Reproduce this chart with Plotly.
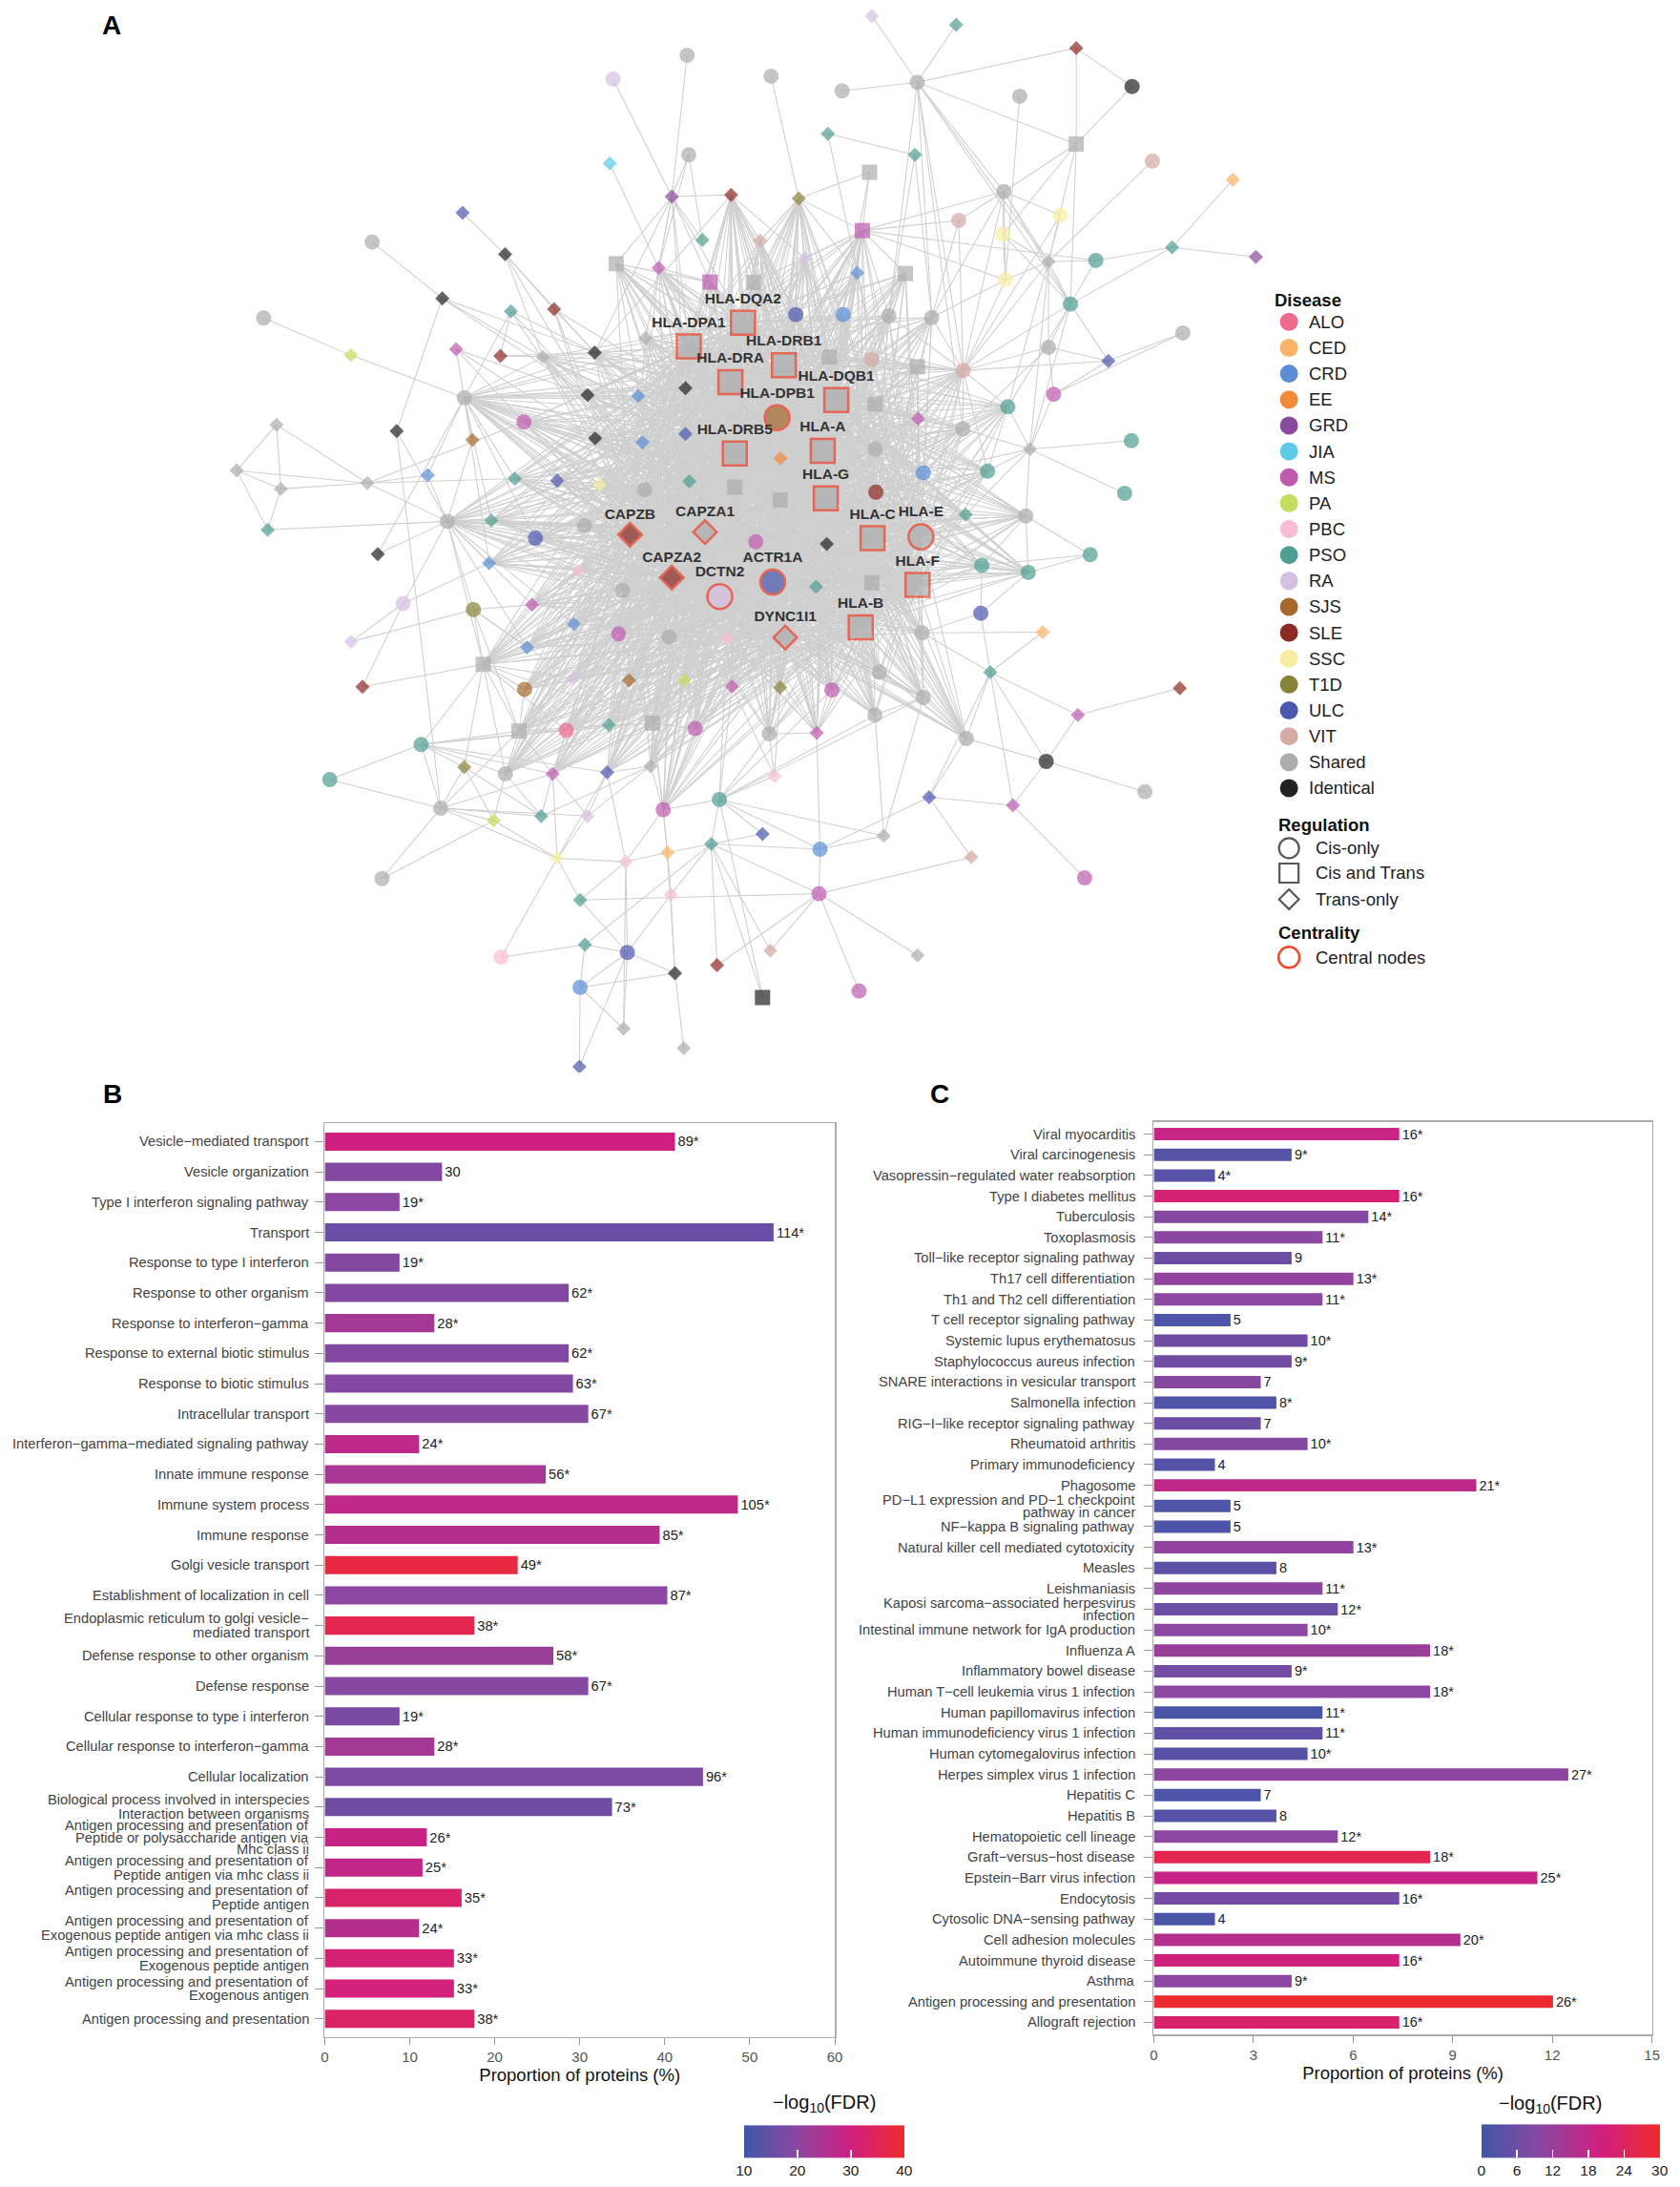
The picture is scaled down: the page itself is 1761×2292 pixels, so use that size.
import plotly.graph_objects as go

W, H = 1761, 2292
SANS = "Liberation Sans, Arial, Helvetica, sans-serif"

# ---------------- Panel A: network (coordinates in picture units, 1210 wide) ----------------
node_id = list(range(1, 204)) + [205, 206, 207, 208, 209, 211, 212, 213, 214, 215, 217, 218, 219]
node_x = [
    495.5, 441.8, 496.7, 439.4, 484.4, 506.6, 332.7, 267.1, 363.5, 318.0,
    188.4, 367.7, 399.0, 444.1, 474.9, 512.1, 251.8, 328.0, 360.1, 390.9,
    428.5, 465.4, 496.7, 494.3, 333.9, 423.3, 460.0, 377.2, 284.9, 339.8,
    428.8, 463.1, 494.3, 197.8, 168.9, 200.9, 263.6, 307.4, 370.6, 401.3,
    432.3, 464.7, 497.1, 191.4, 321.6, 353.5, 421.0, 385.5, 454.1, 508.5,
    271.2, 351.9, 416.9, 484.4, 448.7, 519.2, 289.6, 340.5, 383.1, 413.4,
    445.8, 482.5, 251.8, 379.5, 347.6, 260.1, 412.7, 377.7, 453.4, 493.6,
    373.6, 407.9, 438.7, 470.2, 501.4, 302.6, 236.4, 333.9, 363.7, 398.0,
    437.5, 469.0, 518.9, 316.8, 355.2, 389.7, 423.3, 478.2, 513.0, 401.3,
    451.0, 481.3, 274.3, 417.9, 483.7, 360.6, 421.4, 452.2, 517.2, 486.7,
    417.9, 449.4, 493.1, 417.4, 629.5, 690.6, 777.7, 818.2, 556.4, 607.9,
    662.4, 736.7, 777.7, 597.6, 660.7, 832.9, 891.3, 527.4, 576.5, 627.8,
    622.6, 548.5, 580.9, 618.9, 653.8, 543.6, 725.2, 692.5, 724.5, 766.2,
    726.4, 757.6, 791.9, 847.2, 908.0, 773.5, 855.0, 801.0, 761.3, 757.6,
    695.7, 662.6, 672.9, 641.8, 608.6, 574.3, 536.0, 565.7, 598.8, 629.5,
    526.9, 603.7, 560.8, 631.9, 663.1, 530.1, 593.9, 563.2, 631.9, 695.5,
    728.1, 744.1, 817.7, 812.8, 713.4, 666.8, 632.4, 530.1, 563.0, 596.1,
    697.5, 741.1, 630.0, 665.1, 545.3, 596.8, 787.8, 709.2, 742.9, 557.6,
    589.0, 629.5, 662.6, 708.5, 621.4, 566.7, 524.5, 666.0, 753.4, 715.4,
    528.1, 563.0, 600.5, 634.9, 666.8, 631.7, 852.8, 778.9, 555.1, 589.5,
    698.0, 755.9, 558.8,
    827.5, 671.0, 731.8, 550.2, 638.1,
    591.9, 701.6, 783.8, 591.2, 555.9,
    662.6, 550.2, 620.2,
]
node_y = [
    40.0, 57.2, 112.1, 118.3, 142.3, 173.7, 154.1, 175.2, 184.0, 216.0,
    230.2, 225.3, 223.8, 190.9, 193.9, 204.2, 257.2, 252.8, 257.7, 258.4,
    255.2, 244.7, 250.8, 281.0, 287.9, 285.9, 286.6, 305.5, 312.1, 318.5,
    317.3, 320.2, 314.1, 307.5, 340.6, 353.9, 349.7, 344.0, 346.5, 348.0,
    350.9, 354.6, 348.5, 383.5, 377.4, 376.7, 380.4, 389.6, 387.0, 385.2,
    401.2, 407.7, 412.9, 418.1, 427.4, 431.8, 436.9, 441.3, 437.7, 451.7,
    458.9, 461.0, 464.6, 468.7, 480.9, 497.2, 491.2, 499.0, 492.5, 492.5,
    529.2, 528.7, 524.8, 523.5, 527.4, 539.0, 564.4, 555.3, 560.2, 560.2,
    559.2, 554.6, 578.8, 585.1, 593.9, 590.7, 590.7, 586.1, 610.9, 621.3,
    623.8, 617.1, 636.0, 651.5, 647.6, 692.9, 683.8, 689.5, 698.7, 704.5,
    714.8, 744.6, 758.8, 772.2, 11.5, 17.9, 34.8, 62.6, 55.2, 65.8,
    59.6, 69.7, 104.3, 96.9, 112.1, 116.6, 130.1, 141.1, 143.6, 124.7,
    166.9, 174.2, 187.0, 197.5, 198.0, 204.4, 138.7, 159.5, 169.8, 155.8,
    202.5, 189.4, 188.5, 179.1, 186.0, 220.1, 241.0, 261.3, 285.4, 251.5,
    268.2, 265.5, 229.9, 228.7, 227.7, 227.7, 233.6, 264.3, 258.4, 260.1,
    276.6, 289.6, 302.3, 292.5, 303.1, 328.3, 326.4, 331.8, 325.2, 310.4,
    294.5, 325.2, 319.0, 357.1, 341.1, 342.3, 356.3, 352.6, 362.0, 360.7,
    372.5, 373.5, 389.6, 388.6, 392.2, 393.8, 401.5, 409.3, 414.4, 421.4,
    424.8, 421.9, 423.5, 443.9, 454.2, 461.5, 462.0, 458.1, 457.6, 486.6,
    496.9, 497.7, 499.5, 486.6, 504.9, 517.6, 498.2, 517.6, 531.3, 530.5,
    534.6, 551.2, 561.8,
    573.2, 577.1, 583.0, 603.7, 605.0,
    614.8, 620.5, 635.5, 646.9, 688.2,
    691.6, 722.1, 717.4,
]
node_group = [
    "Shared", "RA", "Shared", "JIA", "GRD", "PSO", "ULC", "Shared", "Identical", "Identical",
    "Shared", "PSO", "SLE", "Shared", "MS", "MS", "PA", "MS", "SLE", "Shared",
    "Identical", "Shared", "Shared", "Identical", "Shared", "Identical", "CRD", "MS", "Identical", "SJS",
    "Identical", "CRD", "ULC", "Shared", "Shared", "Shared", "Shared", "CRD", "PSO", "ULC",
    "SSC", "Shared", "PSO", "PSO", "Shared", "PSO", "Shared", "ULC", "SLE", "Shared",
    "Identical", "CRD", "PBC", "SLE", "Shared", "RA", "RA", "T1D", "MS", "CRD",
    "MS", "Shared", "RA", "CRD", "Shared", "SLE", "RA", "SJS", "SJS", "PA",
    "Shared", "ALO", "PSO", "Shared", "MS", "PSO", "PSO", "T1D", "Shared", "MS",
    "ULC", "Shared", "PSO", "Shared", "PA", "PSO", "RA", "MS", "PSO", "SSC",
    "PBC", "CED", "Shared", "PSO", "PBC", "PBC", "PSO", "ULC", "SLE", "Identical",
    "CRD", "Shared", "Shared", "ULC", "RA", "PSO", "SLE", "Identical", "Shared", "Shared",
    "Shared", "Shared", "Shared", "PSO", "PSO", "VIT", "CED", "SLE", "T1D", "Shared",
    "MS", "VIT", "RA", "CRD", "Shared", "Shared", "Shared", "VIT", "SSC", "SSC",
    "SSC", "Shared", "PSO", "PSO", "GRD", "PSO", "Shared", "ULC", "MS", "Shared",
    "VIT", "Shared", "Shared", "Shared", "CRD", "ULC", "Shared", "Shared", "Shared", "VIT",
    "Shared", "Shared", "SJS", "Shared", "MS", "Shared", "Shared", "EE", "Shared", "Shared",
    "PSO", "Shared", "PSO", "PSO", "PSO", "CRD", "SLE", "Shared", "Shared", "Shared",
    "PSO", "Shared", "Shared", "Shared", "MS", "Identical", "PSO", "PSO", "PSO", "ULC",
    "PSO", "Shared", "Shared", "ULC", "Shared", "Shared", "PBC", "Shared", "CED", "PSO",
    "MS", "T1D", "MS", "Shared", "Shared", "Shared", "SLE", "MS", "Shared", "MS",
    "Shared", "Identical", "PBC",
    "Shared", "ULC", "MS", "ULC", "Shared",
    "CRD", "VIT", "MS", "MS", "VIT",
    "Shared", "Identical", "MS",
]
node_shape = [
    "c", "c", "c", "d", "d", "d", "d", "c", "d", "d",
    "c", "d", "d", "s", "d", "s", "d", "d", "d", "d",
    "d", "d", "s", "d", "c", "d", "d", "c", "d", "d",
    "d", "d", "d", "d", "d", "d", "d", "d", "d", "d",
    "d", "c", "d", "d", "c", "d", "c", "c", "d", "d",
    "d", "d", "d", "d", "c", "c", "c", "c", "d", "d",
    "c", "c", "d", "d", "s", "d", "d", "c", "d", "d",
    "s", "c", "d", "s", "c", "c", "c", "d", "c", "d",
    "d", "d", "c", "c", "d", "d", "d", "c", "d", "d",
    "d", "d", "c", "d", "d", "c", "d", "c", "d", "d",
    "c", "d", "d", "d", "d", "d", "d", "c", "c", "c",
    "c", "c", "s", "d", "d", "c", "d", "d", "d", "s",
    "s", "d", "d", "d", "s", "s", "c", "c", "c", "c",
    "c", "d", "c", "d", "d", "c", "c", "d", "c", "c",
    "c", "s", "c", "c", "c", "c", "s", "s", "s", "c",
    "s", "s", "c", "s", "d", "s", "s", "d", "c", "c",
    "c", "d", "c", "c", "c", "c", "c", "s", "s", "s",
    "d", "c", "s", "c", "c", "d", "c", "c", "c", "c",
    "d", "s", "s", "c", "s", "d", "d", "c", "d", "d",
    "d", "d", "c", "c", "c", "c", "d", "d", "c", "d",
    "c", "c", "d",
    "c", "d", "d", "d", "d",
    "c", "d", "c", "c", "d",
    "d", "s", "c",
]

central_ids = [147, 23, 148, 151, 152, 153, 156, 157, 170, 49, 50, 173, 174, 54, 180, 56, 183, 186, 185]
central_labels = ["HLA-DQA2", "HLA-DPA1", "HLA-DRB1", "HLA-DRA", "HLA-DQB1", "HLA-DPB1", "HLA-DRB5",
                  "HLA-A", "HLA-G", "CAPZB", "CAPZA1", "HLA-C", "HLA-E", "CAPZA2", "ACTR1A", "DCTN2",
                  "HLA-F", "DYNC1I1", "HLA-B"]

# nodes inside the dense core that are linked to the central nodes
core_ids = [14, 15, 16, 20, 21, 22, 24, 25, 26, 27, 28, 31, 32, 33, 39, 40, 41, 42, 43, 45, 46, 47, 48,
            52, 53, 55, 59, 60, 61, 62, 64, 65, 67, 68, 69, 70, 71, 72, 73, 74, 75, 79, 80, 81, 82, 88,
            118, 119, 121, 122, 123, 124, 125, 126, 141, 142, 143, 144, 145, 146, 149, 150, 154, 155,
            158, 159, 160, 161, 165, 166, 167, 168, 169, 171, 172, 175, 176, 178, 179, 181, 182, 187,
            188, 191, 192, 193, 194, 195, 196, 199, 200, 201]

other_edges = [
    (2, 5), (1, 5), (3, 5), (3, 6), (3, 15), (5, 118), (5, 6), (5, 15), (5, 16), (5, 14), (5, 22), (5, 23),
    (5, 24), (5, 147), (5, 21), (4, 15), (7, 9), (9, 21), (9, 26), (9, 13), (9, 20), (8, 10), (10, 29),
    (10, 20), (10, 21), (10, 26), (11, 17), (17, 25), (12, 19), (12, 21), (12, 31), (12, 26), (13, 21),
    (13, 26), (13, 31), (13, 24), (18, 26), (18, 31), (18, 28), (19, 20), (19, 21), (14, 16), (15, 16),
    (16, 147), (16, 23), (16, 151), (29, 45), (29, 84), (34, 35), (34, 36), (34, 37), (35, 36), (35, 37),
    (35, 44), (36, 44), (36, 37), (37, 45), (37, 38), (37, 39), (37, 28), (38, 45), (38, 25), (44, 45),
    (25, 28), (25, 30), (25, 31), (25, 21), (25, 26), (25, 39), (25, 40), (25, 41), (25, 42), (25, 46),
    (25, 48), (25, 52), (25, 24), (25, 33), (25, 43), (25, 32), (25, 27), (25, 20), (25, 18), (25, 12),
    (45, 51), (45, 57), (45, 52), (45, 46), (45, 48), (45, 53), (45, 55), (45, 59), (45, 60), (45, 64),
    (45, 65), (45, 47), (45, 39), (45, 40), (45, 62), (45, 58), (45, 30), (57, 52), (58, 63), (58, 64),
    (58, 59), (58, 65), (58, 67), (58, 71), (65, 66), (65, 71), (65, 76), (65, 78), (65, 68), (65, 67),
    (65, 72), (65, 60), (65, 64), (65, 59), (65, 74), (65, 53), (65, 79), (76, 77), (76, 84), (76, 78),
    (76, 71), (76, 72), (76, 79), (76, 80), (76, 81), (76, 73), (84, 93), (84, 78), (84, 85), (84, 86),
    (84, 71), (84, 80), (84, 87), (84, 90), (71, 72), (71, 73), (71, 79), (71, 80), (71, 68), (74, 82),
    (74, 72), (74, 73), (74, 81), (74, 88), (74, 80), (74, 75), (74, 69), (74, 70), (74, 67), (74, 62),
    (74, 61), (82, 81), (82, 88), (82, 87), (82, 75), (82, 86), (78, 85), (78, 86), (79, 85), (79, 86),
    (80, 86), (80, 87), (80, 90), (81, 90), (81, 87), (81, 91), (90, 96), (90, 94), (90, 85), (90, 91),
    (90, 87), (96, 97), (97, 98), (97, 101), (98, 101), (98, 104), (98, 102), (98, 100), (98, 91),
    (101, 102), (101, 104), (101, 100), (100, 103), (100, 92), (91, 102), (91, 92), (95, 98), (95, 100),
    (95, 92), (94, 98), (94, 91), (94, 214), (89, 83), (89, 92), (89, 95), (88, 92), (88, 91), (88, 95),
    (88, 75), (83, 88), (63, 57), (66, 57), (51, 25), (77, 84), (93, 85),
    (105, 111), (106, 111), (111, 110), (111, 107), (107, 108), (107, 113), (108, 113), (111, 113),
    (111, 143), (111, 141), (111, 132), (111, 127), (111, 136), (111, 144), (111, 160), (109, 119),
    (112, 131), (113, 132), (113, 136), (113, 129), (113, 127), (116, 132), (117, 134), (134, 133),
    (134, 135), (134, 136), (114, 115), (114, 124), (115, 144), (115, 143), (118, 123), (118, 122),
    (118, 126), (118, 147), (118, 16), (118, 151), (118, 23), (118, 21), (118, 24), (119, 120), (119, 122),
    (119, 126), (119, 123), (119, 124), (119, 147), (119, 121), (119, 148), (119, 146), (119, 149),
    (119, 145), (120, 145), (120, 121), (121, 127), (121, 128), (121, 124), (121, 125), (121, 123),
    (121, 126), (121, 148), (121, 146), (121, 144), (121, 131), (121, 133), (127, 128), (127, 129),
    (127, 131), (127, 132), (127, 136), (127, 141), (127, 143), (128, 141), (128, 143), (130, 132),
    (130, 141), (130, 127), (129, 136), (129, 132), (129, 131), (131, 141), (131, 143), (131, 132),
    (132, 133), (132, 136), (132, 140), (132, 141), (132, 162), (132, 161), (133, 136), (136, 138),
    (136, 141), (136, 161), (136, 162), (136, 140), (137, 139), (137, 138), (138, 141), (138, 139),
    (138, 140), (139, 162), (139, 140), (140, 141), (140, 160), (141, 143), (141, 144), (141, 142),
    (141, 149), (141, 150), (141, 154), (141, 155), (141, 159), (141, 160), (141, 161), (141, 165),
    (141, 166), (141, 167), (162, 163), (162, 164), (162, 172), (162, 161), (162, 165), (162, 171),
    (162, 166), (162, 160), (161, 165), (161, 160), (172, 177), (172, 179), (172, 178), (172, 171),
    (177, 178), (177, 179), (178, 179), (178, 184), (179, 184), (184, 190), (184, 188), (188, 189),
    (188, 190), (188, 195), (188, 182), (189, 190), (190, 201), (190, 198), (190, 202), (190, 206),
    (190, 207), (198, 197), (198, 202), (202, 205), (202, 207), (202, 201), (195, 201), (195, 209),
    (195, 83), (195, 194), (195, 196), (201, 206), (206, 207), (206, 212), (206, 211), (207, 213),
    (196, 83), (196, 209), (200, 211), (200, 199), (211, 214), (211, 209), (211, 83), (211, 89),
    (214, 215), (214, 217), (214, 219), (214, 89), (83, 208), (83, 209), (83, 203), (83, 193), (83, 191),
    (83, 187), (83, 199), (218, 89), (218, 83), (99, 89), (215, 89), (199, 203), (203, 191), (203, 192),
    (208, 89), (212, 214), (99, 214), (97, 89), (176, 181), (175, 187),
]

disease_names = ["ALO", "CED", "CRD", "EE", "GRD", "JIA", "MS", "PA", "PBC", "PSO", "RA", "SJS", "SLE",
                 "SSC", "T1D", "ULC", "VIT", "Shared", "Identical"]
disease_colors = ["#EE6B8E", "#F7B366", "#5B8ED4", "#F28A3A", "#8A4A9E", "#5FC9EA", "#BE5AAE", "#C6DC5C",
                  "#F6BDD4", "#4F9E93", "#D5C0E1", "#A5692D", "#8D2A24", "#F8EEA2", "#878339", "#4B57AE",
                  "#D3AAA4", "#ADADAD", "#222222"]
regulation_names = ["Cis-only", "Cis and Trans", "Trans-only"]

# ---------------- Panel B data ----------------
b_terms = [
    "Vesicle−mediated transport", "Vesicle organization", "Type I interferon signaling pathway", "Transport",
    "Response to type I interferon", "Response to other organism", "Response to interferon−gamma",
    "Response to external biotic stimulus", "Response to biotic stimulus", "Intracellular transport",
    "Interferon−gamma−mediated signaling pathway", "Innate immune response", "Immune system process",
    "Immune response", "Golgi vesicle transport", "Establishment of localization in cell",
    "Endoplasmic reticulum to golgi vesicle−\nmediated transport", "Defense response to other organism",
    "Defense response", "Cellular response to type i interferon", "Cellular response to interferon−gamma",
    "Cellular localization", "Biological process involved in interspecies\nInteraction between organisms",
    "Antigen processing and presentation of\nPeptide or polysaccharide antigen via\nMhc class ii",
    "Antigen processing and presentation of\nPeptide antigen via mhc class ii",
    "Antigen processing and presentation of\nPeptide antigen",
    "Antigen processing and presentation of\nExogenous peptide antigen via mhc class ii",
    "Antigen processing and presentation of\nExogenous peptide antigen",
    "Antigen processing and presentation of\nExogenous antigen",
    "Antigen processing and presentation",
]
b_pct = [41.2, 13.8, 8.8, 52.8, 8.8, 28.7, 12.9, 28.7, 29.2, 31.0, 11.1, 26.0, 48.6, 39.4, 22.7, 40.3,
         17.6, 26.9, 31.0, 8.8, 12.9, 44.5, 33.8, 12.0, 11.5, 16.1, 11.1, 15.2, 15.2, 17.6]
b_count = ["89*", "30", "19*", "114*", "19*", "62*", "28*", "62*", "63*", "67*", "24*", "56*", "105*", "85*",
           "49*", "87*", "38*", "58*", "67*", "19*", "28*", "96*", "73*", "26*", "25*", "35*", "24*", "33*",
           "33*", "38*"]
b_fdr = [30, 19, 20, 15.4, 19.3, 19, 23.5, 19, 19, 19.5, 27.4, 24, 27.5, 26, 37.5, 20, 36, 22, 19.5, 17.8,
         23.5, 18, 16.6, 29, 28, 32.8, 26, 31.6, 30.7, 33.4]
b_ticks = [0, 10, 20, 30, 40, 50, 60]
b_cbar_ticks = [10, 20, 30, 40]

# ---------------- Panel C data ----------------
c_terms = [
    "Viral myocarditis", "Viral carcinogenesis", "Vasopressin−regulated water reabsorption",
    "Type I diabetes mellitus", "Tuberculosis", "Toxoplasmosis", "Toll−like receptor signaling pathway",
    "Th17 cell differentiation", "Th1 and Th2 cell differentiation", "T cell receptor signaling pathway",
    "Systemic lupus erythematosus", "Staphylococcus aureus infection", "SNARE interactions in vesicular transport",
    "Salmonella infection", "RIG−I−like receptor signaling pathway", "Rheumatoid arthritis",
    "Primary immunodeficiency", "Phagosome", "PD−L1 expression and PD−1 checkpoint\npathway in cancer",
    "NF−kappa B signaling pathway", "Natural killer cell mediated cytotoxicity", "Measles", "Leishmaniasis",
    "Kaposi sarcoma−associated herpesvirus\ninfection", "Intestinal immune network for IgA production",
    "Influenza A", "Inflammatory bowel disease", "Human T−cell leukemia virus 1 infection",
    "Human papillomavirus infection", "Human immunodeficiency virus 1 infection",
    "Human cytomegalovirus infection", "Herpes simplex virus 1 infection", "Hepatitis C", "Hepatitis B",
    "Hematopoietic cell lineage", "Graft−versus−host disease", "Epstein−Barr virus infection", "Endocytosis",
    "Cytosolic DNA−sensing pathway", "Cell adhesion molecules", "Autoimmune thyroid disease", "Asthma",
    "Antigen processing and presentation", "Allograft rejection",
]
c_pct = [7.39, 4.15, 1.84, 7.39, 6.46, 5.08, 4.15, 6.01, 5.08, 2.31, 4.63, 4.15, 3.22, 3.69, 3.22, 4.63,
         1.84, 9.71, 2.31, 2.31, 6.01, 3.69, 5.08, 5.54, 4.63, 8.32, 4.15, 8.32, 5.08, 5.08, 4.63, 12.48,
         3.22, 3.69, 5.54, 8.32, 11.55, 7.39, 1.84, 9.23, 7.39, 4.15, 12.02, 7.39]
c_count = ["16*", "9*", "4*", "16*", "14*", "11*", "9", "13*", "11*", "5", "10*", "9*", "7", "8*", "7", "10*",
           "4", "21*", "5", "5", "13*", "8", "11*", "12*", "10*", "18*", "9*", "18*", "11*", "11*", "10*",
           "27*", "7", "8", "12*", "18*", "25*", "16*", "4", "20*", "16*", "9*", "26*", "16*"]
c_fdr = [18.6, 3, 3, 21.6, 9.3, 10, 6, 11, 10, 2, 6.5, 6.7, 9.3, 2, 5.5, 9.2, 2.8, 17.5, 2, 2, 11, 3.5, 10.3,
         5.5, 10, 12, 6.8, 10, 1.3, 4.5, 3.2, 10.2, 2, 2.8, 10, 25.8, 18.6, 7.3, 1.3, 16, 20.4, 10, 29.5, 22.5]
c_ticks = [0, 3, 6, 9, 12, 15]
c_cbar_ticks = [0, 6, 12, 18, 24, 30]

FDR_SCALE = [[0.0, "#3F57A8"], [0.33, "#8A47A1"], [0.67, "#D01F80"], [1.0, "#EF2B2B"]]

# ---------------- build figure ----------------
fig = go.Figure()
pos = {i: (x, y) for i, x, y in zip(node_id, node_x, node_y)}
color_of = dict(zip(disease_names, disease_colors))
symbol_of = {"c": "circle", "s": "square", "d": "diamond"}
size_norm = {"c": 16, "s": 16, "d": 11.5}
size_cent = {"c": 26, "s": 25, "d": 19}

edges = []
for h in central_ids:
    for c in core_ids:
        edges.append((h, c))
for k, a in enumerate(central_ids):
    for b in central_ids[k + 1:]:
        edges.append((a, b))
edges += other_edges

ex, ey = [], []
for a, b in edges:
    ex += [pos[a][0], pos[b][0], None]
    ey += [pos[a][1], pos[b][1], None]
fig.add_trace(go.Scatter(x=ex, y=ey, mode="lines", line=dict(color="#CFCFCF", width=1.05),
                         hoverinfo="skip", xaxis="x", yaxis="y"))

cset = set(central_ids)
nx_, ny_, ns_, nsz_, nc_ = [], [], [], [], []
for i, x, y, g, s in zip(node_id, node_x, node_y, node_group, node_shape):
    if i in cset:
        continue
    nx_.append(x); ny_.append(y); ns_.append(symbol_of[s]); nsz_.append(size_norm[s]); nc_.append(color_of[g])
fig.add_trace(go.Scatter(x=nx_, y=ny_, mode="markers", xaxis="x", yaxis="y", hoverinfo="skip",
                         marker=dict(symbol=ns_, size=nsz_, color=nc_, line=dict(width=0))))

idx = {i: k for k, i in enumerate(node_id)}
cx = [node_x[idx[i]] for i in central_ids]
cy = [node_y[idx[i]] for i in central_ids]
cs = [symbol_of[node_shape[idx[i]]] for i in central_ids]
csz = [size_cent[node_shape[idx[i]]] for i in central_ids]
cc = [color_of[node_group[idx[i]]] for i in central_ids]
fig.add_trace(go.Scatter(x=cx, y=cy, mode="markers+text", xaxis="x", yaxis="y", hoverinfo="skip",
                         text=["<b>%s</b>" % t for t in central_labels], textposition="top center",
                         textfont=dict(family=SANS, size=15.5, color="#333333"),
                         marker=dict(symbol=cs, size=csz, color=cc, line=dict(color="#EE3B24", width=2.5))))

# legend (drawn in network coordinates)
LX, LT = 932, 945
ly = [233 + 18.75 * k for k in range(len(disease_names))]
fig.add_trace(go.Scatter(x=[LX] * len(disease_names), y=ly, mode="markers", xaxis="x", yaxis="y",
                         hoverinfo="skip", marker=dict(symbol="circle", size=19, color=disease_colors)))
reg_y = [614, 632, 651]
fig.add_trace(go.Scatter(x=[LX] * 3, y=reg_y, mode="markers", xaxis="x", yaxis="y", hoverinfo="skip",
                         marker=dict(symbol=["circle-open", "square-open", "diamond-open"], size=[21, 20, 16],
                                     color="#111111", line=dict(width=2.2))))
fig.add_trace(go.Scatter(x=[LX], y=[693], mode="markers", xaxis="x", yaxis="y", hoverinfo="skip",
                         marker=dict(symbol="circle-open", size=22, color="#F04A2A", line=dict(width=2.5))))

annotations = []
for name, y in zip(disease_names, ly):
    annotations.append(dict(x=LT, y=y, xref="x", yref="y", text=name, showarrow=False, xanchor="left",
                            yanchor="middle", font=dict(family=SANS, size=18.5, color="#222222")))
for name, y in zip(regulation_names, reg_y):
    annotations.append(dict(x=950, y=y, xref="x", yref="y", text=name, showarrow=False, xanchor="left",
                            yanchor="middle", font=dict(family=SANS, size=18.5, color="#222222")))
annotations.append(dict(x=950, y=693, xref="x", yref="y", text="Central nodes", showarrow=False,
                        xanchor="left", yanchor="middle", font=dict(family=SANS, size=18.5, color="#222222")))
for t, x, y in [("Disease", 920, 217), ("Regulation", 923, 597), ("Centrality", 923, 675)]:
    annotations.append(dict(x=x, y=y, xref="x", yref="y", text="<b>%s</b>" % t, showarrow=False,
                            xanchor="left", yanchor="middle", font=dict(family=SANS, size=18.5, color="#111111")))

# panel letters
for t, px, py in [("A", 114, 27), ("B", 115, 1153), ("C", 988, 1153)]:
    annotations.append(dict(x=px / W, y=1 - py / H, xref="paper", yref="paper", text="<b>%s</b>" % t,
                            showarrow=False, xanchor="center", yanchor="middle",
                            font=dict(family=SANS, size=28, color="#000000")))

# colour-bar titles
for px, py in [(866, 2216), (1632, 2217)]:
    annotations.append(dict(x=px / W, y=1 - py / H, xref="paper", yref="paper", text="−log<sub>10</sub>(FDR)",
                            showarrow=False, xanchor="center", yanchor="middle",
                            font=dict(family=SANS, size=20, color="#111111")))

# bars B
fig.add_trace(go.Bar(x=b_pct, y=b_terms, orientation="h", width=0.6, xaxis="x2", yaxis="y2",
                     marker=dict(color=b_fdr, coloraxis="coloraxis", line=dict(width=0)),
                     text=b_count, textposition="outside", constraintext="none", cliponaxis=False,
                     textfont=dict(family=SANS, size=14.7, color="#222222"), hoverinfo="skip"))
# bars C
fig.add_trace(go.Bar(x=c_pct, y=c_terms, orientation="h", width=0.6, xaxis="x3", yaxis="y3",
                     marker=dict(color=c_fdr, coloraxis="coloraxis2", line=dict(width=0)),
                     text=c_count, textposition="outside", constraintext="none", cliponaxis=False,
                     textfont=dict(family=SANS, size=14.5, color="#222222"), hoverinfo="skip"))

# category labels as annotations (tight multi-line spacing like the original)
def add_labels(terms, yref, xpos, size, sp2, sp3):
    for i, t in enumerate(terms):
        lines = t.split("\n")
        n = len(lines)
        sp = sp2 if n == 2 else sp3
        for j, line in enumerate(lines):
            annotations.append(dict(x=xpos, y=i + (j - (n - 1) / 2) * sp, xref="paper", yref=yref, text=line,
                                    showarrow=False, xanchor="right", yanchor="middle",
                                    font=dict(family=SANS, size=size, color="#444444")))

add_labels(b_terms, "y2", 324 / W, 14.7, 0.47, 0.38)
add_labels(c_terms, "y3", 1196 / W, 14.7, 0.6, 0.45)

axis_common = dict(showline=True, linecolor="#ABABAB", linewidth=1.5, mirror=True, showgrid=False,
                   zeroline=False, ticks="outside", tickcolor="#999999")

fig.update_layout(
    width=W, height=H, margin=dict(l=0, r=0, t=0, b=0), paper_bgcolor="white", plot_bgcolor="white",
    showlegend=False, font=dict(family=SANS),
    xaxis=dict(domain=[0, 1], range=[0, 1210], visible=False, fixedrange=True),
    yaxis=dict(domain=[1 - 1130 / H, 1], range=[1130 / (W / 1210), 0], visible=False, fixedrange=True),
    xaxis2=dict(domain=[338.7 / W, 877 / W], range=[0, 60], tickvals=b_ticks, ticklen=7, anchor="y2",
                tickfont=dict(family=SANS, size=15, color="#555555"),
                title=dict(text="Proportion of proteins (%)", font=dict(family=SANS, size=18.5, color="#111111"),
                           standoff=3), **axis_common),
    yaxis2=dict(domain=[1 - 2146 / H, 1 - 1183.6 / H], type="category", categoryorder="array",
                categoryarray=b_terms, range=[29.6, -0.6], showticklabels=False, ticklen=9, anchor="x2",
                **axis_common),
    xaxis3=dict(domain=[1213.7 / W, 1739.5 / W], range=[0, 15], tickvals=c_ticks, ticklen=7, anchor="y3",
                tickfont=dict(family=SANS, size=15, color="#555555"),
                title=dict(text="Proportion of proteins (%)", font=dict(family=SANS, size=18.5, color="#111111"),
                           standoff=3), **axis_common),
    yaxis3=dict(domain=[1 - 2143.7 / H, 1 - 1181.8 / H], type="category", categoryorder="array",
                categoryarray=c_terms, range=[43.6, -0.6], showticklabels=False, ticklen=9, anchor="x3",
                **axis_common),
    coloraxis=dict(cmin=10, cmax=40, colorscale=FDR_SCALE, colorbar=dict(
        orientation="h", x=865.7 / W, xanchor="center", y=-12 / H, yanchor="bottom", ypad=0, xpad=0,
        len=168, lenmode="pixels", thickness=34, outlinewidth=0, tickvals=b_cbar_ticks, ticks="inside",
        ticklen=8, tickwidth=1.5, tickcolor="white", tickfont=dict(family=SANS, size=15.5, color="#222222"))),
    coloraxis2=dict(cmin=0, cmax=30, colorscale=FDR_SCALE, colorbar=dict(
        orientation="h", x=1653.5 / W, xanchor="center", y=-12 / H, yanchor="bottom", ypad=0, xpad=0,
        len=187, lenmode="pixels", thickness=35, outlinewidth=0, tickvals=c_cbar_ticks, ticks="inside",
        ticklen=8, tickwidth=1.5, tickcolor="white", tickfont=dict(family=SANS, size=15.5, color="#222222"))),
    annotations=annotations,
)

# remove the page's default body margin so the figure sits at the window's top-left corner; no mode bar
fig.write_html("out.html", config={"displayModeBar": False, "staticPlot": True},
               post_script="document.body.style.margin='0';document.body.style.overflow='hidden';")
